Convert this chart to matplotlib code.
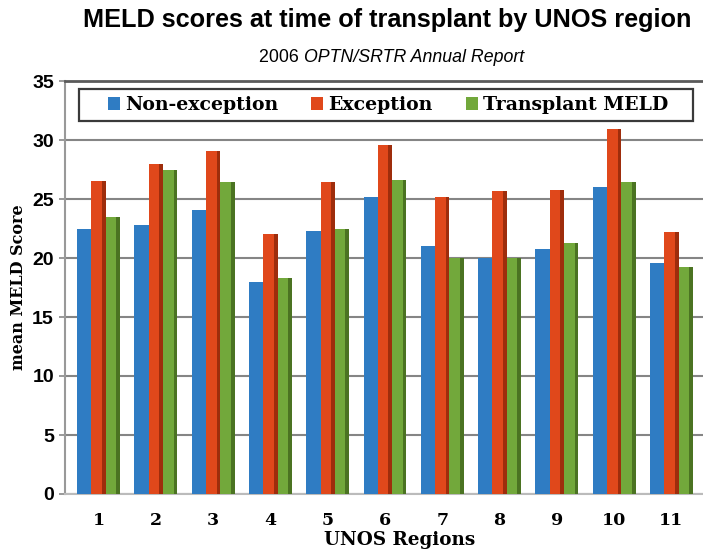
import matplotlib
matplotlib.use("Agg")
import matplotlib.pyplot as plt
import numpy as np
from matplotlib.patches import Patch, Rectangle

regions = ["1", "2", "3", "4", "5", "6", "7", "8", "9", "10", "11"]
non_exception = [22.5, 22.8, 24.1, 18.0, 22.3, 25.2, 21.0, 20.0, 20.8, 26.0, 19.6]
exception = [26.5, 28.0, 29.1, 22.0, 26.4, 29.6, 25.2, 25.7, 25.8, 30.9, 22.2]
transplant = [23.5, 27.5, 26.4, 18.3, 22.5, 26.6, 20.0, 20.0, 21.3, 26.4, 19.2]
series_names = ["Non-exception", "Exception", "Transplant MELD"]
colors = ["#2f7cc3", "#e0481b", "#72a83b"]
shadows = [None, "#9e2d0c", "#4b7322"]

W, H = 703, 554
fig = plt.figure(figsize=(W / 100, H / 100), dpi=100)
ax_l, ax_r, ax_b, ax_t = 65, 703, 494, 81
ax = fig.add_axes([ax_l / W, 1 - ax_b / H, (ax_r - ax_l) / W, (ax_b - ax_t) / H])

x = np.arange(1, len(regions) + 1)
w = 0.25
sw = 0.065
offsets = [-w, 0, w]
for i, (vals, off, c, s) in enumerate(zip([non_exception, exception, transplant], offsets, colors, shadows)):
    ax.bar(x + off, vals, width=w, color=c, zorder=3 + i, linewidth=0)
    if s is not None:
        ax.bar(x + off + w / 2 - sw / 2, vals, width=sw, color=s, zorder=3 + i, linewidth=0)

ax.set_xlim(0.415, 11.55)
ax.set_ylim(0, 35)
ax.set_yticks(range(0, 36, 5))
ax.set_xticks(x)
ax.set_xticklabels(regions)
ax.yaxis.grid(True, color="#858585", linewidth=1.5, zorder=0)
ax.tick_params(axis="x", length=0, pad=13, labelsize=12.5)
ax.tick_params(axis="y", length=4, width=1.2, color="#888888", pad=4, labelsize=14)
for lab in ax.get_xticklabels():
    lab.set_fontfamily("DejaVu Serif")
    lab.set_fontweight("bold")
for lab in ax.get_yticklabels():
    lab.set_fontfamily("Liberation Sans")
    lab.set_fontweight("bold")

ax.spines["right"].set_visible(False)
ax.spines["top"].set_color("#5a5a5a")
ax.spines["top"].set_linewidth(2)
ax.spines["left"].set_color("#999999")
ax.spines["left"].set_linewidth(1.5)
ax.spines["bottom"].set_color("#bbbbbb")
ax.spines["bottom"].set_linewidth(1.5)

fig.text(19 / W, 1 - 287 / H, "mean MELD Score", rotation=90, ha="center", va="center",
         fontfamily="DejaVu Serif", fontweight="bold", fontsize=11.5)
fig.text(400 / W, 1 - 540 / H, "UNOS Regions", ha="center", va="center",
         fontfamily="DejaVu Serif", fontweight="bold", fontsize=13.2)

# legend frame and legend
fig.patches.append(Rectangle((79 / W, 1 - 121 / H), (693 - 79) / W, (121 - 89) / H,
                             transform=fig.transFigure, facecolor="white", edgecolor="#3a3a3a",
                             linewidth=1.6, zorder=5))
handles = [Patch(facecolor=c, edgecolor="none") for c in colors]
leg = fig.legend(handles, series_names, loc="center", bbox_to_anchor=(388 / W, 1 - 105 / H),
                 ncol=3, frameon=False, handlelength=0.63, handleheight=0.63,
                 handletextpad=0.28, columnspacing=1.75, borderaxespad=0, borderpad=0,
                 prop={"family": "DejaVu Serif", "weight": "bold", "size": 13.6})
leg.set_zorder(6)

fig.text(387 / W, 1 - 20 / H, "MELD scores at time of transplant by UNOS region", ha="center", va="center",
         fontfamily="Liberation Sans", fontweight="bold", fontsize=18.2)
fig.text(304 / W, 1 - 57 / H, "2006 ", ha="right", va="center", fontfamily="Liberation Sans", fontsize=12.8)
fig.text(304 / W, 1 - 57 / H, "OPTN/SRTR Annual Report", ha="left", va="center", fontfamily="Liberation Sans",
         fontstyle="italic", fontsize=12.8)

fig.savefig("out.png", dpi=100)
